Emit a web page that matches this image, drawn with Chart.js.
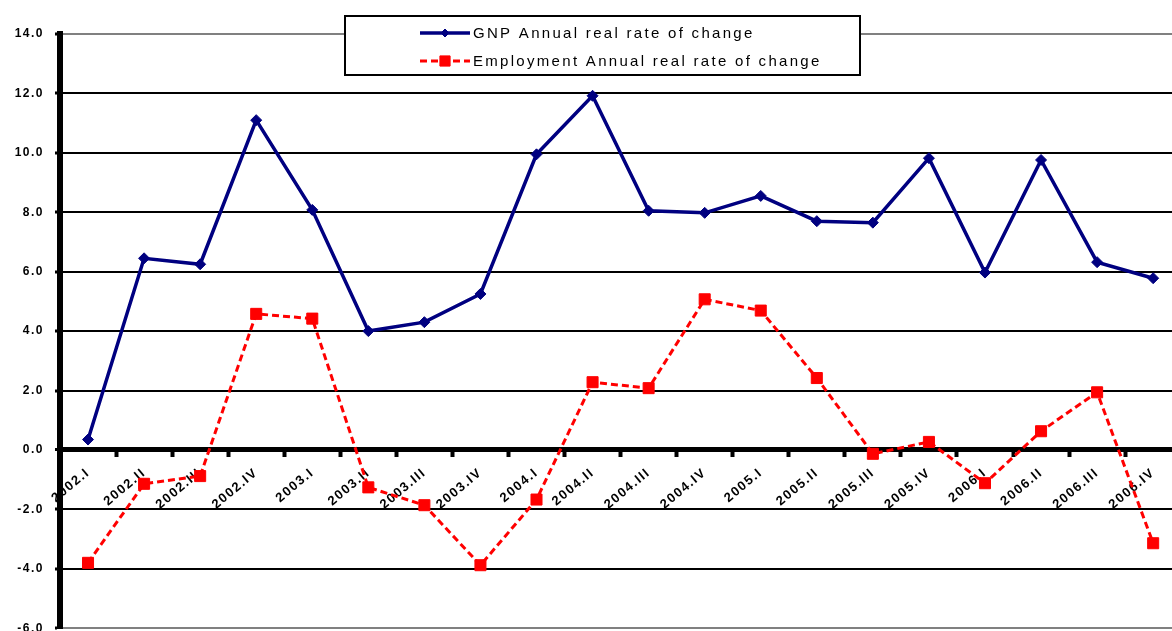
<!DOCTYPE html>
<html><head><meta charset="utf-8">
<script src="https://cdn.jsdelivr.net/npm/chart.js@4/dist/chart.umd.min.js"></script>
<style>
html,body{margin:0;padding:0;background:#fff;overflow:hidden;}
#wrap{position:relative;width:1190px;height:637px;}
</style></head><body>
<div id="wrap"><canvas id="c" width="1190" height="637"></canvas></div>
<script>
const categories = ['2002.I','2002.II','2002.III','2002.IV','2003.I','2003.II','2003.III','2003.IV',
  '2004.I','2004.II','2004.III','2004.IV','2005.I','2005.II','2005.III','2005.IV',
  '2006.I','2006.II','2006.III','2006.IV'];
const gnpValues = [0.35, 6.45, 6.25, 11.1, 8.08, 4.0, 4.3, 5.25, 9.95, 11.92, 8.05, 7.98, 8.55, 7.7, 7.65, 9.82, 5.97, 9.76, 6.32, 5.78];
const employmentValues = [-3.8, -1.14, -0.88, 4.58, 4.42, -1.26, -1.86, -3.88, -1.67, 2.28, 2.08, 5.07, 4.69, 2.42, -0.13, 0.27, -1.12, 0.63, 1.94, -3.14];
const seriesNames = ['GNP Annual real rate of change', 'Employment Annual real rate of change'];
const yMin = -6, yMax = 14, yStep = 2;

const gnpColor = '#000080';
const empColor = '#FF0000';

const spacingPlugin = {
  id: 'spacing',
  beforeUpdate(chart) { chart.ctx.letterSpacing = '1.5px'; },
  beforeDraw(chart) { chart.ctx.letterSpacing = '1.5px'; }
};

const legendBoxPlugin = {
  id: 'legendBox',
  afterDraw(chart) {
    const ctx = chart.ctx;
    const ds = chart.data.datasets;
    const markerSize = [4, 7.2];
    ctx.save();
    ctx.fillStyle = '#fff';
    ctx.fillRect(345, 16, 515, 59);
    ctx.strokeStyle = '#000';
    ctx.lineWidth = 2;
    ctx.strokeRect(345, 16, 515, 59);
    const rows = [33, 61];
    ds.forEach((d, i) => {
      const y = rows[i];
      ctx.save();
      ctx.strokeStyle = d.borderColor;
      ctx.lineWidth = d.borderWidth;
      ctx.setLineDash(d.borderDash || []);
      ctx.beginPath();
      ctx.moveTo(420, y);
      ctx.lineTo(470, y);
      ctx.stroke();
      ctx.restore();
      ctx.fillStyle = d.backgroundColor;
      ctx.strokeStyle = d.borderColor;
      ctx.lineWidth = 1;
      Chart.helpers.drawPoint(ctx, {pointStyle: d.pointStyle, radius: markerSize[i], borderWidth: 1, rotation: 0}, 445, y);
      ctx.fillStyle = '#000';
      ctx.letterSpacing = '2.3px';
      ctx.font = '15px Arial, "Liberation Sans", sans-serif';
      ctx.textAlign = 'left';
      ctx.textBaseline = 'middle';
      ctx.fillText(d.label, 473, y + 1);
    });
    ctx.restore();
  }
};

new Chart(document.getElementById('c'), {
  type: 'line',
  data: {
    labels: categories,
    datasets: [
      {
        label: seriesNames[0],
        data: gnpValues,
        borderColor: gnpColor,
        backgroundColor: gnpColor,
        borderWidth: 3.5,
        pointStyle: 'rectRot',
        pointRadius: 5.5,
        pointBorderWidth: 1,
        tension: 0
      },
      {
        label: seriesNames[1],
        data: employmentValues,
        borderColor: empColor,
        backgroundColor: empColor,
        borderWidth: 3,
        borderDash: [7, 4],
        pointStyle: 'rect',
        pointRadius: 7.8,
        pointBorderWidth: 1,
        tension: 0
      }
    ]
  },
  options: {
    responsive: false,
    animation: false,
    devicePixelRatio: 1,
    layout: { padding: { top: 34, bottom: 0, right: 8, left: 0 } },
    plugins: { legend: { display: false }, tooltip: { enabled: false } },
    scales: {
      x: {
        type: 'category',
        position: { y: 0 },
        offset: true,
        afterFit(scale) { scale.paddingLeft = 0; scale.paddingRight = 0; scale.paddingTop = 0; scale.paddingBottom = 0; },
        grid: { display: true, drawOnChartArea: false, drawTicks: true, tickLength: 5, tickWidth: 4, tickColor: '#000', offset: true },
        border: { display: true, color: '#000', width: 5 },
        ticks: {
          color: '#000',
          font: { family: 'Arial, "Liberation Sans", sans-serif', size: 13, weight: 'bold' },
          maxRotation: 40, minRotation: 40, autoSkip: false, padding: 10
        }
      },
      y: {
        min: yMin, max: yMax,
        afterFit(scale) { scale.width = 60; scale.paddingTop = 0; scale.paddingBottom = 0; },
        ticks: {
          stepSize: yStep,
          color: '#000',
          padding: 11,
          font: { family: 'Arial, "Liberation Sans", sans-serif', size: 12, weight: 'bold' },
          callback: v => Number(v).toFixed(1)
        },
        grid: {
          color: c => (c.tick && (c.tick.value === yMax || c.tick.value === yMin)) ? '#808080' : '#000',
          lineWidth: c => (c.tick && c.tick.value === 0) ? 5 : 2,
          tickColor: '#000', tickLength: 5, tickWidth: 3, drawTicks: true
        },
        border: { display: true, color: '#000', width: 6 }
      }
    }
  },
  plugins: [spacingPlugin, legendBoxPlugin]
});
</script>
</body></html>
